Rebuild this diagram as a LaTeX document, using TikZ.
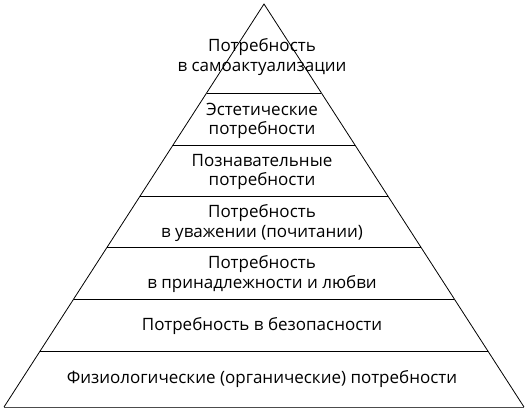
\documentclass[tikz,border=0pt]{standalone}
\usepackage{fontspec}
\setmainfont{Open Sans}
\usetikzlibrary{calc}

\begin{document}
\begin{tikzpicture}[x=1pt, y=-1pt, line width=0.8pt,
  every node/.style={font=\fontsize{17}{19.5}\selectfont, align=center}]
  \useasboundingbox (0,0) rectangle (528,412);
  \coordinate (apex) at (264,4);
  \coordinate (bl) at (4,407);
  \coordinate (br) at (524,407);
  \draw (bl) -- (apex) -- (br);
  \draw[black!70, line width=1pt] (bl) -- (br);
  \foreach \t in {0.2208, 0.3499, 0.4764, 0.603, 0.732, 0.861}
    \draw ($(apex)!\t!(bl)$) -- ($(apex)!\t!(br)$);
  \node (self) at (262,57) {Потребность\\в самоактуализации};
  \node (aesth) at (262,121) {Эстетические\\потребности};
  \node (cogn) at (262,172) {Познавательные\\потребности};
  \node (esteem) at (262,223) {Потребность\\в уважении (почитании)};
  \node (love) at (262,274) {Потребность\\в принадлежности и любви};
  \node (safety) at (262,326) {Потребность в безопасности};
  \node (phys) at (262,379) {Физиологические (органические) потребности};
\end{tikzpicture}
\end{document}
